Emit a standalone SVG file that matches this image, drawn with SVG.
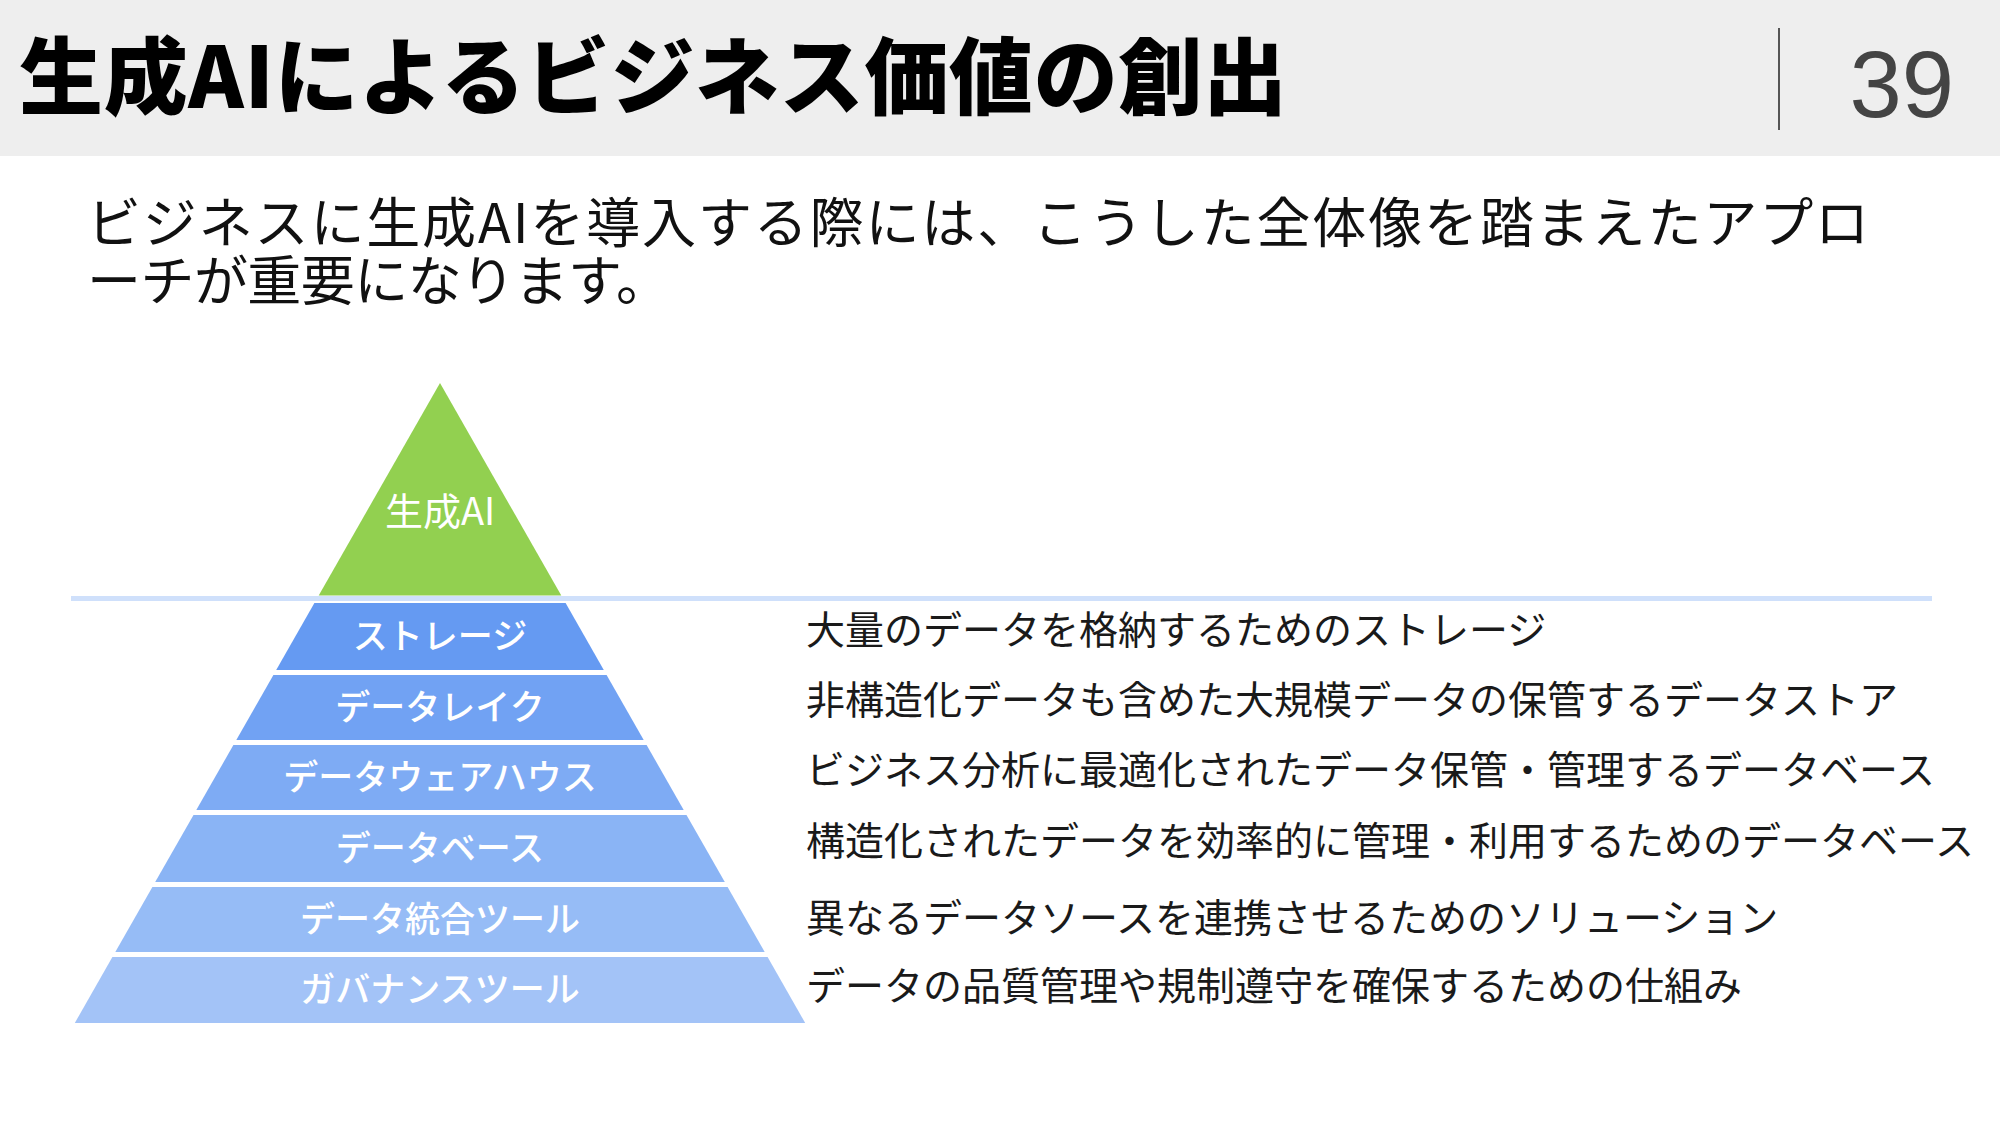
<svg xmlns="http://www.w3.org/2000/svg" width="2000" height="1125" viewBox="0 0 2000 1125">
<style>
.jp{font-family:"Noto Sans CJK JP","Noto Sans",sans-serif}
.title{font-size:84px;font-weight:900;fill:#000}
.sub{font-size:54px;fill:#111}
.lbl{font-size:35px;font-weight:500;fill:#fff;text-anchor:middle}
.desc{font-size:39px;fill:#1a1a1a}
</style>
<rect x="0" y="0" width="2000" height="1125" fill="#ffffff"/>
<g id="header">
<rect x="0" y="0" width="2000" height="156" fill="#eeeeee"/>
<text class="jp title" x="19" y="108" textLength="1268" lengthAdjust="spacing">生成AIによるビジネス価値の創出</text>
<line x1="1779" y1="28" x2="1779" y2="130" stroke="#555" stroke-width="2"/>
<text x="1954" y="117" text-anchor="end" font-family="Liberation Sans, Arial, sans-serif" font-size="94" fill="#444">39</text>
</g>
<g id="subtitle">
<text class="jp sub"><tspan x="87" y="243" textLength="1782" lengthAdjust="spacing">ビジネスに生成AIを導入する際には、こうした全体像を踏まえたアプロ</tspan><tspan x="87" y="301" textLength="583" lengthAdjust="spacing">ーチが重要になります。</tspan></text>
</g>
<g id="connectors">
<line x1="71" y1="598.5" x2="1932" y2="598.5" stroke="#cfe0fb" stroke-width="5"/>
</g>
<g id="node-genai">
<polygon points="440,383 561.3,595.5 318.7,595.5" fill="#92d050"/>
<text class="jp lbl" x="440" y="525" style="font-size:38px;font-weight:400">生成AI</text>
</g>
<g id="node-storage">
<polygon points="314.4,603 565.6,603 603.8,670 276.2,670" fill="#659af2"/>
<text class="jp lbl" x="440" y="648.5">ストレージ</text>
</g>
<g id="node-datalake">
<polygon points="273.4,675 606.6,675 643.7,740 236.3,740" fill="#71a2f3"/>
<text class="jp lbl" x="440" y="719.5">データレイク</text>
</g>
<g id="node-dwh">
<polygon points="233.4,745 646.6,745 683.7,810 196.3,810" fill="#7eabf4"/>
<text class="jp lbl" x="440" y="789.5">データウェアハウス</text>
</g>
<g id="node-database">
<polygon points="193.5,815 686.5,815 724.8,882 155.2,882" fill="#8ab4f5"/>
<text class="jp lbl" x="440" y="860.5">データベース</text>
</g>
<g id="node-integration">
<polygon points="152.4,887 727.6,887 764.7,952 115.3,952" fill="#96bcf6"/>
<text class="jp lbl" x="440" y="931.5">データ統合ツール</text>
</g>
<g id="node-governance">
<polygon points="112.4,957 767.6,957 805.2,1023 74.8,1023" fill="#a3c3f7"/>
<text class="jp lbl" x="440" y="1002">ガバナンスツール</text>
</g>
<g id="descriptions">
<text class="jp desc" x="806" y="644">大量のデータを格納するためのストレージ</text>
<text class="jp desc" x="806" y="714">非構造化データも含めた大規模データの保管するデータストア</text>
<text class="jp desc" x="806" y="784">ビジネス分析に最適化されたデータ保管・管理するデータベース</text>
<text class="jp desc" x="806" y="855">構造化されたデータを効率的に管理・利用するためのデータベース</text>
<text class="jp desc" x="806" y="932">異なるデータソースを連携させるためのソリューション</text>
<text class="jp desc" x="806" y="1000">データの品質管理や規制遵守を確保するための仕組み</text>
</g>
</svg>
